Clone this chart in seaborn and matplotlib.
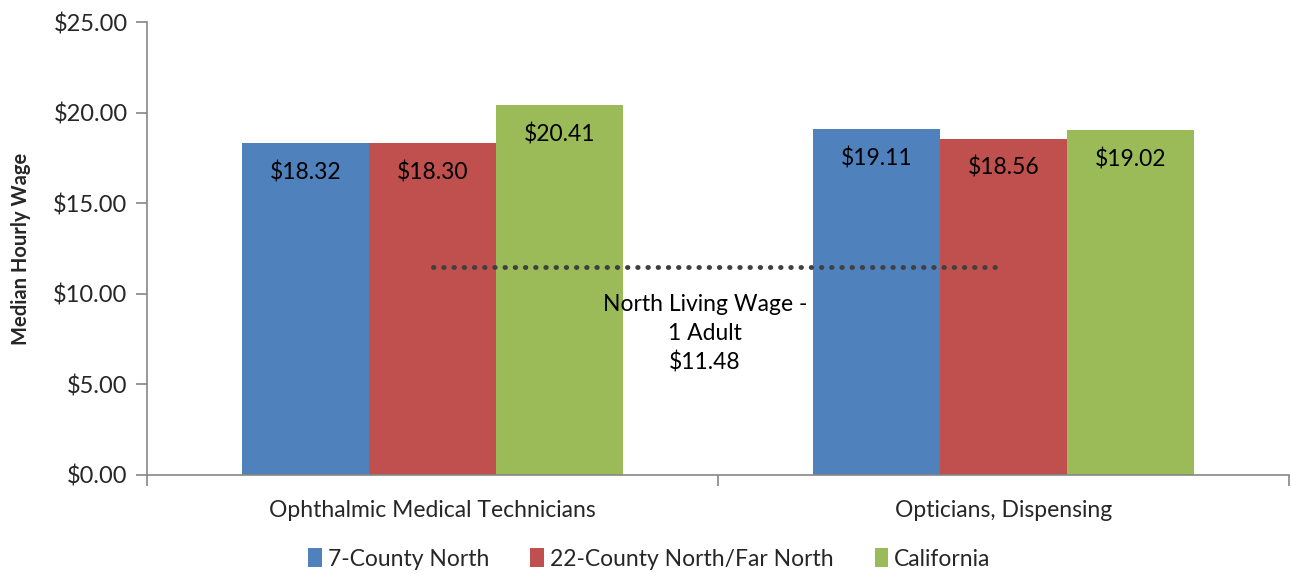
import matplotlib
matplotlib.use("Agg")
import matplotlib.pyplot as plt
import seaborn as sns
import pandas as pd
from matplotlib.ticker import FuncFormatter, FixedLocator
from matplotlib.patches import Patch

categories = ["Ophthalmic Medical Technicians", "Opticians, Dispensing"]
series_names = ["7-County North", "22-County North/Far North", "California"]
county7 = [18.32, 19.11]
county22 = [18.30, 18.56]
california = [20.41, 19.02]
living_wage = 11.48
living_wage_label = "North Living Wage -\n1 Adult\n$11.48"
colors = ["#4F81BD", "#C0504D", "#9BBB59"]

sns.set_theme(style="white")
plt.rcParams['font.family'] = ['Lato', 'DejaVu Sans']

rows = []
for name, vals in zip(series_names, [county7, county22, california]):
    for c, v in zip(categories, vals):
        rows.append({"Category": c, "Series": name, "Wage": v})
df = pd.DataFrame(rows)

fig = plt.figure(figsize=(12.91, 5.74), dpi=100)
ax = fig.add_axes([147/1291, 1-475/574, (1289-147)/1291, (475-22)/574])

sns.barplot(data=df, x="Category", y="Wage", hue="Series", order=categories,
            hue_order=series_names, palette=colors, width=0.667, gap=0,
            saturation=1, errorbar=None, ax=ax, legend=False, linewidth=0)

# value labels inside bars near top
for container in ax.containers:
    labels = [f"${v:.2f}" for v in container.datavalues]
    ax.bar_label(container, labels=labels, label_type="edge", padding=-29,
                 fontsize=16.5, color="black")

# living wage dotted line
sns.lineplot(x=[0, 1], y=[living_wage, living_wage], ax=ax, color="#404040",
             linewidth=3.5, linestyle=(0, (0.1, 2.0)))
for l in ax.lines:
    l.set_dash_capstyle("round")
    l.set_solid_capstyle("round")
ax.text(0.477, living_wage - 1.5, living_wage_label, ha="center", va="top",
        fontsize=16.5, color="black", linespacing=1.45)

ax.set_xlim(-0.5, 1.5)
ax.set_ylim(0, 25)
ax.set_yticks([0, 5, 10, 15, 20, 25])
ax.yaxis.set_major_formatter(FuncFormatter(lambda v, p: f"${v:.2f}"))
ax.set_xlabel("")
ax.set_ylabel("Median Hourly Wage", fontsize=14.5, fontweight="bold", labelpad=16)

for s in ["top", "right"]:
    ax.spines[s].set_visible(False)
for s in ["left", "bottom"]:
    ax.spines[s].set_color("#868686")
    ax.spines[s].set_linewidth(1.2)

ax.tick_params(axis="y", which="major", length=8, width=1.2, color="#868686",
               direction="out", left=True, labelsize=17, pad=6)
ax.tick_params(axis="x", which="major", length=0, labelsize=16.5, pad=18)
ax.xaxis.set_minor_locator(FixedLocator([-0.5, 0.5, 1.5]))
ax.tick_params(axis="x", which="minor", length=8, width=1.2, color="#868686",
               direction="out", bottom=True)

handles = [Patch(facecolor=c, edgecolor="none") for c in colors]
fig.legend(handles, series_names, loc="center", bbox_to_anchor=(0.503, 1-559/574),
           ncol=3, frameon=False, fontsize=16.5, handlelength=0.6, handleheight=0.9,
           handletextpad=0.25, columnspacing=1.8)

fig.savefig("out.png", dpi=100)
